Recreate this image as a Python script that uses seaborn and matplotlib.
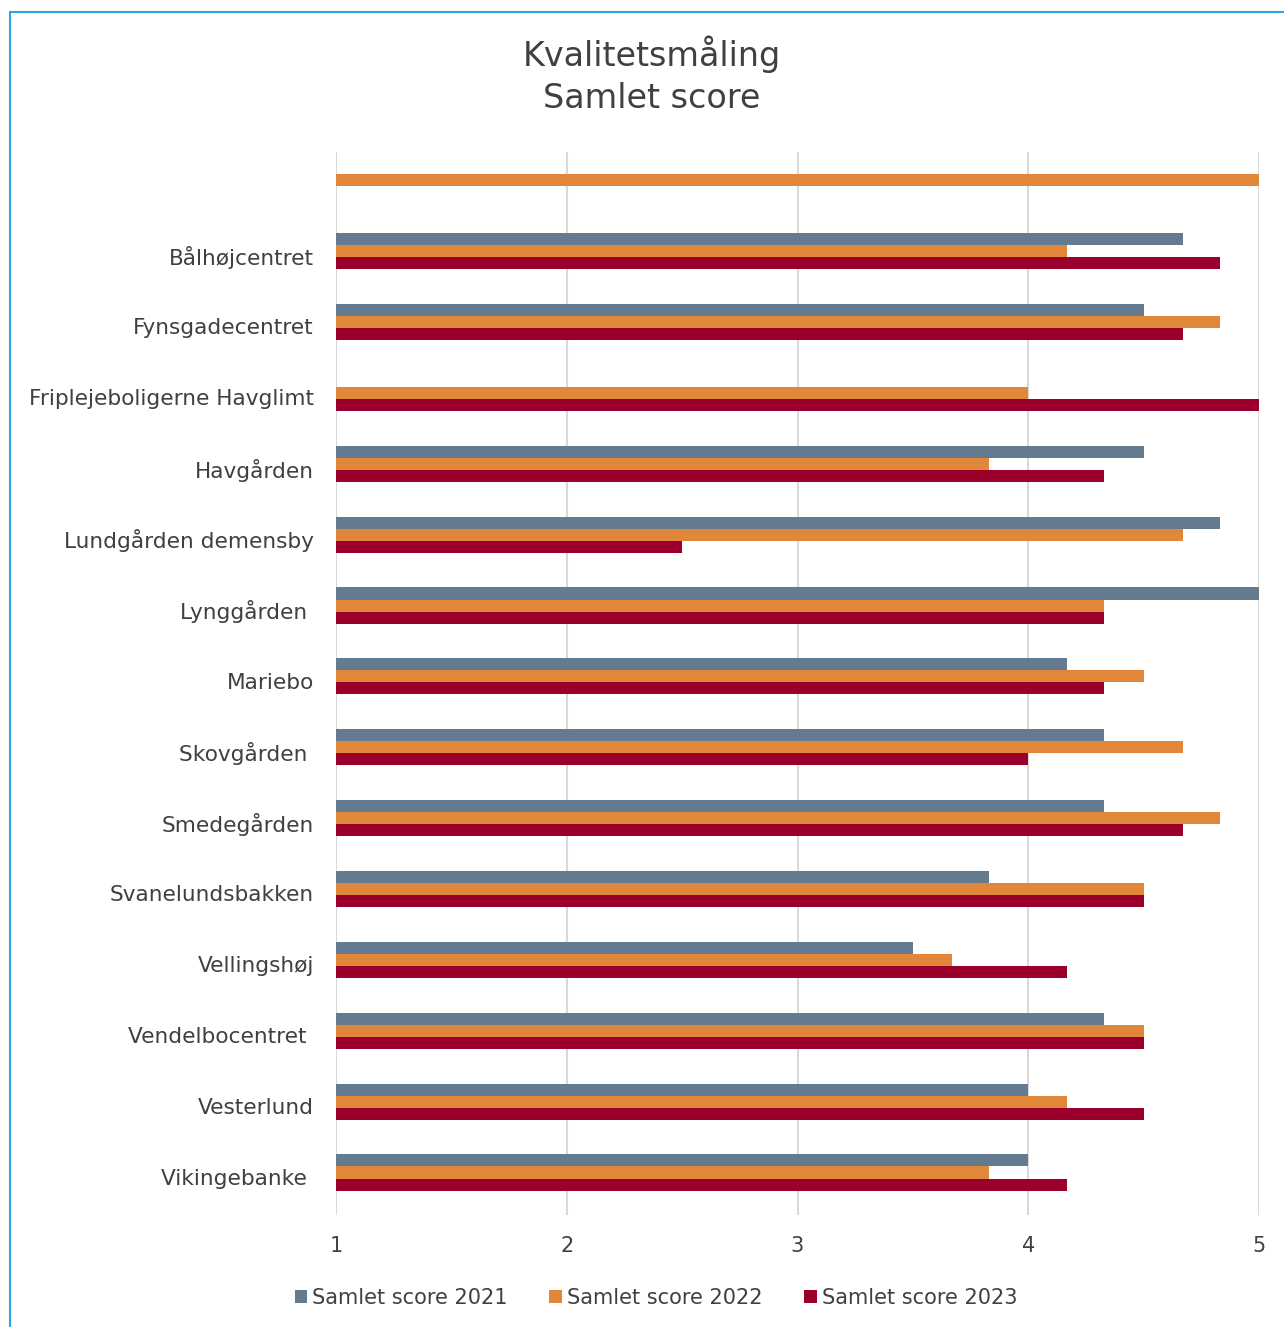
import numpy as np
import pandas as pd
import matplotlib
matplotlib.use("Agg")
import matplotlib.pyplot as plt
from matplotlib.lines import Line2D
import seaborn as sns

categories = ["", "Bålhøjcentret", "Fynsgadecentret", "Friplejeboligerne Havglimt",
              "Havgården", "Lundgården demensby", "Lynggården ", "Mariebo",
              "Skovgården ", "Smedegården", "Svanelundsbakken", "Vellingshøj",
              "Vendelbocentret ", "Vesterlund", "Vikingebanke "]
score_2021 = [np.nan, 4.67, 4.5, np.nan, 4.5, 4.83, 5.0, 4.17, 4.33, 4.33, 3.83, 3.5, 4.33, 4.0, 4.0]
score_2022 = [5.0, 4.17, 4.83, 4.0, 3.83, 4.67, 4.33, 4.5, 4.67, 4.83, 4.5, 3.67, 4.5, 4.17, 3.83]
score_2023 = [np.nan, 4.83, 4.67, 5.0, 4.33, 2.5, 4.33, 4.33, 4.0, 4.67, 4.5, 4.17, 4.5, 4.5, 4.17]
series = ["Samlet score 2021", "Samlet score 2022", "Samlet score 2023"]
colors = ["#647B8F", "#E0873A", "#9B002D"]
title = "Kvalitetsmåling\nSamlet score"
xticks = [1, 2, 3, 4, 5]

rows = []
for name, vals in zip(series, [score_2021, score_2022, score_2023]):
    for c, v in zip(categories, vals):
        rows.append({"kategori": c, "serie": name, "score": v})
df = pd.DataFrame(rows)

sns.set_theme(style="white")
plt.rcParams["font.family"] = ["DejaVu Sans"]
text_color = "#404040"

fig = plt.figure(figsize=(12.84, 13.27), dpi=100)
ax = fig.add_axes([336/1284, 112/1327, (1259-336)/1284, (1215-152)/1327])

sns.barplot(data=df, y="kategori", x="score", hue="serie", order=categories,
            hue_order=series, palette=colors, orient="h", errorbar=None,
            width=0.51, saturation=1, linewidth=0, ax=ax, zorder=3)

n = len(categories)
ax.set_xlim(1, 5)
ax.set_ylim(n - 0.4, -0.4)
ax.set_xticks(xticks)
ax.set_yticks(np.arange(n) + 0.06)
ax.set_yticklabels(categories)
ax.set_xlabel("")
ax.set_ylabel("")
for s in ax.spines.values():
    s.set_visible(False)
ax.grid(axis="x", color="#D9D9D9", linewidth=1.5, zorder=0)
ax.grid(axis="y", visible=False)
ax.set_axisbelow(True)
ax.tick_params(axis="y", length=0, pad=16, labelsize=15.6, labelcolor=text_color)
ax.tick_params(axis="x", length=0, pad=15, labelsize=15, labelcolor=text_color)

leg = ax.legend(loc="center", bbox_to_anchor=((656 - 336) / 923, -(1298 - 1215) / 1063),
                ncol=3, frameon=False, fontsize=15, handlelength=0.6, handleheight=0.6,
                handletextpad=0.25, columnspacing=2.0, labelcolor=text_color)

fig.text(652/1284, 1 - 75/1327, title, ha="center", va="center", fontsize=24,
         color=text_color, linespacing=1.33)

border = "#29A8E0"
fig.add_artist(Line2D([9.5/1284, 9.5/1284], [0, 1 - 11.5/1327], color=border, lw=1.5,
                      transform=fig.transFigure))
fig.add_artist(Line2D([9.5/1284, 1], [1 - 11.5/1327, 1 - 11.5/1327], color=border, lw=1.5,
                      transform=fig.transFigure))

fig.savefig("out.png", dpi=100, facecolor="white")
